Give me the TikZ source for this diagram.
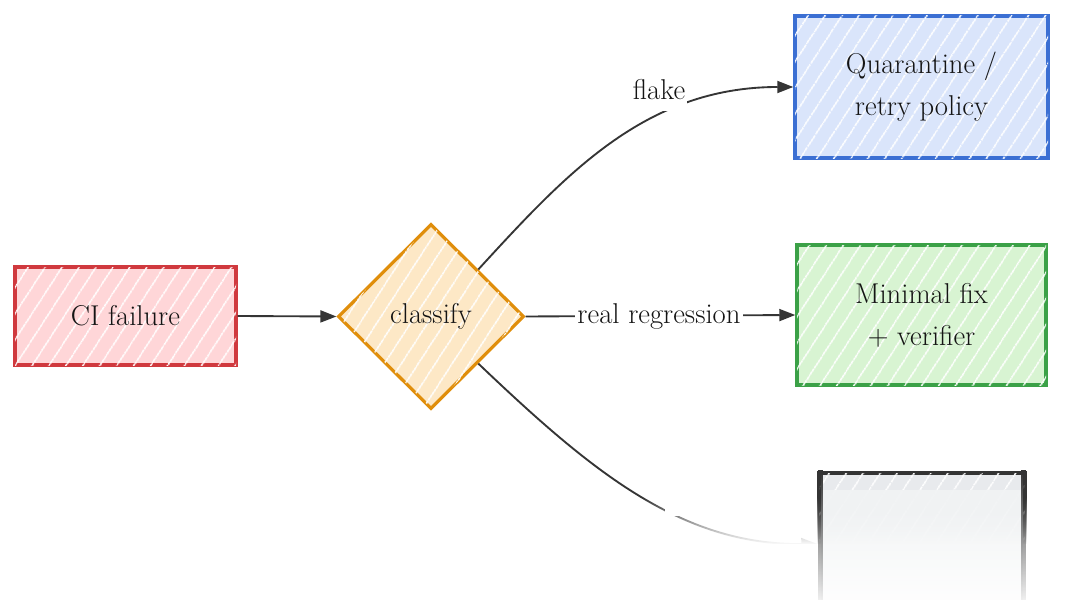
\documentclass[tikz,border=0pt]{standalone}
\usetikzlibrary{shapes.geometric,arrows.meta,patterns.meta,fadings}
\tikzfading[name=fadedown, top color=transparent!100, bottom color=transparent!0]
\tikzfading[name=fadeout, top color=transparent!0, bottom color=transparent!100]
\definecolor{redline}{HTML}{D0393E}
\definecolor{redfill}{HTML}{FFD6D8}
\definecolor{orline}{HTML}{E08E0B}
\definecolor{orfill}{HTML}{FDE8C6}
\definecolor{blline}{HTML}{3B6FD3}
\definecolor{blfill}{HTML}{DAE5FB}
\definecolor{grline}{HTML}{3BA147}
\definecolor{grfill}{HTML}{D8F4D2}
\definecolor{gyline}{HTML}{343434}
\definecolor{gyfill}{HTML}{E8EAED}
\definecolor{conncol}{HTML}{353535}
\begin{document}
\begin{tikzpicture}[x=0.75pt,y=-0.75pt,
  every node/.style={font=\fontsize{21.5}{31.5}\selectfont, text=black!92},
  hatch/.style={postaction={pattern={Lines[angle=57,distance=10.5pt,line width=1.1pt]},pattern color=white}},
  boxnode/.style={draw, line width=2.6pt, align=center, inner sep=0pt, hatch},
  dia/.style={diamond, draw, line width=2.4pt, inner sep=0pt, aspect=1, hatch},
  conn/.style={draw=conncol, line width=1.4pt, -{Triangle[length=12pt,width=9pt]}},
  lbl/.style={fill=white, inner xsep=1.5pt, inner ysep=3pt}
]
\useasboundingbox (0,0) rectangle (1080,599);
\fill[white] (0,0) rectangle (1080,599);

\node[boxnode, draw=redline, fill=redfill, minimum width=165.75pt, minimum height=73.5pt] (ci) at (125.5,316) {CI failure};
\node[dia, draw=orline, fill=orfill, minimum width=139.5pt, minimum height=138.75pt] (cls) at (431,316.5) {classify};
\node[boxnode, draw=blline, fill=blfill, minimum width=189.75pt, minimum height=106.5pt] (quar) at (921.5,87) {Quarantine /\\retry policy};
\node[boxnode, draw=grline, fill=grfill, minimum width=186.75pt, minimum height=105pt] (fix) at (921.5,315) {Minimal fix\\+ verifier};
\node[boxnode, draw=gyline, fill=gyfill, minimum width=154.5pt, minimum height=106.5pt] (gray) at (922,544) {};

\draw[conn] (ci.east) -- (cls.west);
\draw[conn] (cls.north east) .. controls (565,175) and (645,87) .. (quar.west);
\draw[conn] (cls.east) -- (fix.west);
\draw[conn] (cls.south east) .. controls (590,470) and (680,545) .. (gray.west);

\node[lbl, inner ysep=8pt] (lflake) at (659,90) {flake};
\node[lbl] (lreal) at (659,316) {real regression};
\node[fill=white, inner sep=0pt, minimum width=16pt, minimum height=12pt] (lgap) at (676,508) {};

% fade-out of the cut-off bottom
\fill[white, path fading=fadedown] (0,497) rectangle (1080,545);
\fill[white] (0,544) rectangle (1080,615);
\fill[gyfill!60!white, path fading=fadeout] (821,490) rectangle (1023,610);
\fill[gyline, path fading=fadeout] (818,470) rectangle (823,610);
\fill[gyline, path fading=fadeout] (1021,470) rectangle (1026,610);
\end{tikzpicture}
\end{document}
